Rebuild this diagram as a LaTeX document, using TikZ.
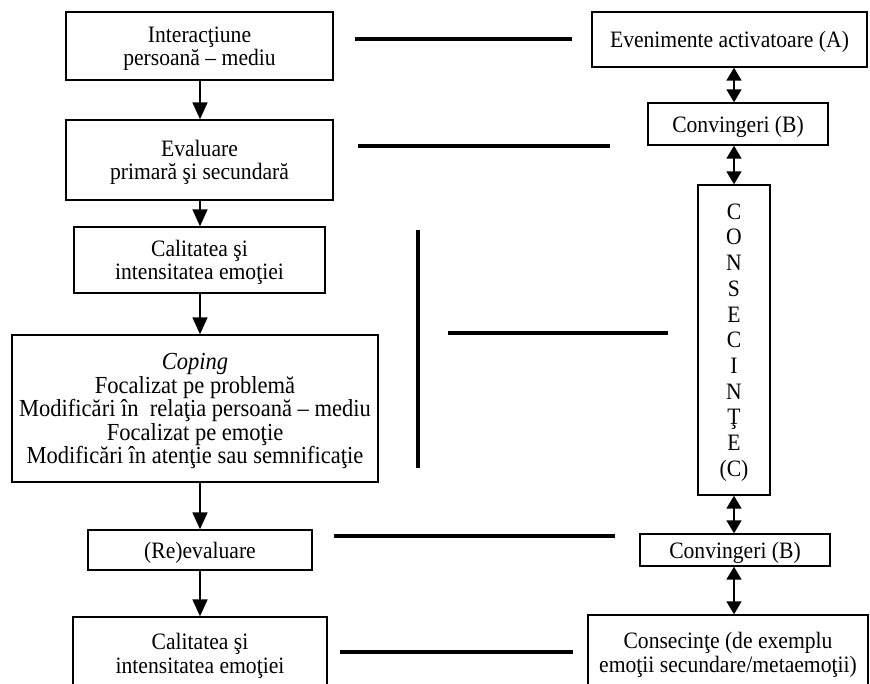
\documentclass[tikz,border=0pt]{standalone}
\usepackage{fontspec}
\setmainfont{Liberation Serif}[FakeStretch=0.92]
\usetikzlibrary{arrows.meta}
\begin{document}
\begin{tikzpicture}[x=1pt,y=-1pt,
  box/.style={draw, line width=1.4pt, inner sep=0pt, align=center,
    font=\fontsize{23.5}{23.5}\selectfont, text depth=0pt},
  conn/.style={line width=3.3pt},
  downarr/.style={line width=1.8pt, -{Triangle[width=15pt,length=17pt]}},
  dblarr/.style={line width=1.8pt, {Triangle[width=15pt,length=13pt]}-{Triangle[width=15pt,length=13pt]}}]
\useasboundingbox (0,0) rectangle (870,683);
% left column
\node[box, minimum width=267pt, minimum height=68pt] (b1) at (199.5,46) {Interacţiune\\persoană – mediu};
\node[box, minimum width=267pt, minimum height=80pt] (b2) at (199.5,160) {Evaluare\\primară şi secundară};
\node[box, minimum width=251pt, minimum height=66pt] (b3) at (199.5,260) {Calitatea şi\\intensitatea emoţiei};
\node[box, minimum width=366pt, minimum height=147pt, font=\fontsize{24.5}{23.4}\selectfont] (b4) at (195,408.5) {\textit{Coping}\\Focalizat pe problemă\\Modificări în\ \ relaţia persoană – mediu\\Focalizat pe emoţie\\Modificări în atenţie sau semnificaţie};
\node[box, minimum width=224pt, minimum height=40pt] (b5) at (200,550) {(Re)evaluare};
\node[box, minimum width=254pt, minimum height=73pt] (b6) at (200,653.5) {Calitatea şi\\intensitatea emoţiei};
\coordinate (colx) at (200,0);
\draw[downarr] (b1.south -| colx) -- (b2.north -| colx);
\draw[downarr] (b2.south -| colx) -- (b3.north -| colx);
\draw[downarr] (b3.south -| colx) -- (b4.north -| colx);
\draw[downarr] (b4.south -| colx) -- (b5.north -| colx);
\draw[downarr] (b5.south -| colx) -- (b6.north -| colx);
% right column
\node[box, minimum width=275pt, minimum height=55pt] (ra) at (729.5,39.5) {Evenimente activatoare (A)};
\node[box, minimum width=180pt, minimum height=42pt] (rb1) at (738,124) {Convingeri (B)};
\node[box, minimum width=72pt, minimum height=310pt, font=\fontsize{23.5}{25.7}\selectfont] (rc) at (734,340) {C\\O\\N\\S\\E\\C\\I\\N\\Ţ\\E\\(C)};
\node[box, minimum width=190pt, minimum height=32pt] (rb2) at (735,550) {Convingeri (B)};
\node[box, minimum width=280pt, minimum height=75pt] (rd) at (728,652.5) {Consecinţe (de exemplu\\emoţii secundare/metaemoţii)};
\coordinate (colr) at (734,0);
\draw[dblarr] (ra.south -| colr) -- (rb1.north -| colr);
\draw[dblarr] (rb1.south -| colr) -- (rc.north -| colr);
\draw[dblarr] (rc.south -| colr) -- (rb2.north -| colr);
\draw[dblarr] (rb2.south -| colr) -- (rd.north -| colr);
% free connector lines
\coordinate (l1a) at (355,39); \coordinate (l1b) at (572,39);
\coordinate (l2a) at (358,146); \coordinate (l2b) at (610,146);
\coordinate (va) at (418,230); \coordinate (vb) at (418,468);
\coordinate (l4a) at (448,333); \coordinate (l4b) at (668,333);
\coordinate (l5a) at (334,536); \coordinate (l5b) at (615,536);
\coordinate (l6a) at (340,652); \coordinate (l6b) at (573,652);
\draw[conn] (l1a) -- (l1b);
\draw[conn] (l2a) -- (l2b);
\draw[conn] (va) -- (vb);
\draw[conn] (l4a) -- (l4b);
\draw[conn] (l5a) -- (l5b);
\draw[conn] (l6a) -- (l6b);
\end{tikzpicture}
\end{document}
